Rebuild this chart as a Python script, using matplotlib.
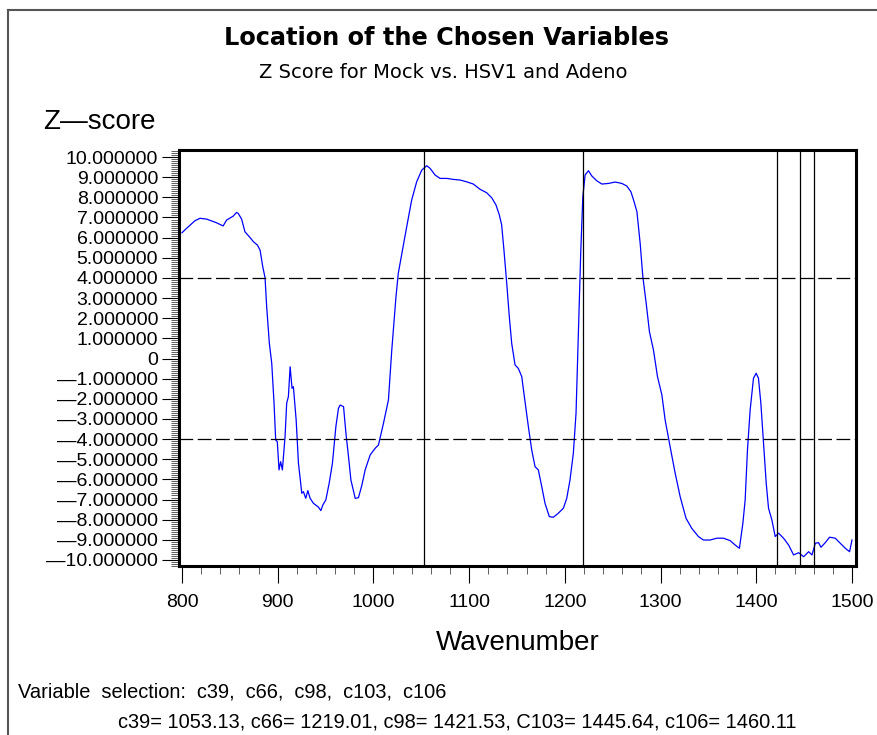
import matplotlib
matplotlib.use('Agg')
import matplotlib.pyplot as plt
from matplotlib.ticker import MultipleLocator, FixedLocator
from matplotlib.lines import Line2D

# Z-score curve
wavenumber = [800, 803, 813.6, 818.8, 825.7, 836, 843, 846.6, 853.6, 857, 858.8, 862.3,
              865.8, 871, 874.6, 878.8, 881.6, 884.4, 886.8, 888.5, 891.3, 893.8, 896.2,
              897.9, 899.6, 901.4, 903.1, 904.9, 907.7, 909.4, 911.2, 913, 915, 916.4,
              919.3, 921.7, 925.2, 926.9, 929.3, 931.5, 933.9, 937.4, 942.6, 945.1, 947.2,
              950.3, 953.8, 957.2, 960.8, 963.5, 965.3, 968.8, 971.3, 974, 976.5, 981,
              984.4, 988, 991.4, 996.6, 1001.8, 1005.3, 1010.5, 1015.7, 1019.2, 1023.6,
              1026, 1031.3, 1034.8, 1040, 1045.2, 1050.5, 1055.7, 1059.2, 1064.4, 1069.6,
              1076.6, 1083.5, 1090.5, 1097.5, 1104.4, 1111.4, 1118.3, 1123.6, 1128.1,
              1131.6, 1134, 1136.4, 1139.3, 1142, 1144.5, 1148, 1151.4, 1155, 1157.7,
              1161.9, 1165.4, 1168.9, 1172.3, 1175.9, 1179.3, 1183.8, 1188, 1193.2, 1198.5,
              1202, 1205.4, 1208.9, 1211.7, 1214.1, 1216.7, 1218.8, 1221.2, 1224.7, 1228.2,
              1233.4, 1238.7, 1245.6, 1252.6, 1259.6, 1264.8, 1269, 1271.8, 1275.3, 1278.7,
              1281.5, 1285, 1288.4, 1292.6, 1296.8, 1301.4, 1304.8, 1310, 1315.3, 1320.5,
              1326.6, 1332.6, 1339.6, 1344.8, 1351.8, 1358.8, 1365.7, 1372.7, 1378, 1382.4,
              1386, 1388.4, 1390.8, 1393.6, 1397.1, 1399.9, 1402.3, 1404.8, 1407.6, 1410.4,
              1412.8, 1416.3, 1419.8, 1423.3, 1428.5, 1433.8, 1439, 1444.3, 1449.5, 1454.7,
              1458.2, 1461.7, 1465.1, 1467.6, 1472.1, 1476.6, 1482.5, 1487.8, 1493, 1497.5,
              1500]
zscore = [6.24, 6.38, 6.84, 6.96, 6.92, 6.74, 6.58, 6.87, 7.07, 7.25, 7.2, 6.92,
          6.29, 6.01, 5.80, 5.63, 5.38, 4.56, 4.01, 2.57, 0.75, -0.24, -2.22,
          -4.04, -4.13, -5.53, -5.12, -5.53, -3.88, -2.22, -1.89, -0.41, -1.48, -1.40,
          -3.05, -5.20, -6.69, -6.61, -6.94, -6.56, -6.94, -7.19, -7.38, -7.55, -7.27,
          -7.02, -6.19, -5.20, -3.38, -2.47, -2.31, -2.39, -3.71, -4.87, -6.03, -6.94,
          -6.91, -6.28, -5.53, -4.79, -4.46, -4.29, -3.22, -2.06, 0.42, 3.07,
          4.23, 5.63, 6.54, 7.87, 8.77, 9.35, 9.57, 9.44, 9.11, 8.94,
          8.94, 8.89, 8.86, 8.77, 8.66, 8.40, 8.23, 7.98, 7.62,
          7.12, 6.63, 5.38, 3.73, 2.07, 0.75, -0.32, -0.49, -0.90, -1.89,
          -3.38, -4.54, -5.37, -5.53, -6.36, -7.19, -7.85, -7.88, -7.68, -7.43,
          -6.94, -6.03, -4.70, -2.72, 1.25, 5.38, 8.03, 9.11, 9.32, 9.06,
          8.82, 8.66, 8.69, 8.76, 8.69, 8.56, 8.28, 7.87, 7.29, 5.72,
          4.06, 2.74, 1.33, 0.42, -0.90, -1.81, -3.05, -4.38, -5.70, -6.86,
          -7.93, -8.43, -8.84, -9.01, -9.01, -8.92, -8.92, -9.04, -9.26, -9.42,
          -8.18, -7.02, -4.54, -2.56, -0.98, -0.73, -0.98, -2.22, -4.21, -6.19,
          -7.43, -8.01, -8.84, -8.67, -8.92, -9.26, -9.75, -9.64, -9.84, -9.59,
          -9.75, -9.17, -9.14, -9.37, -9.14, -8.87, -8.92, -9.17, -9.42, -9.59,
          -9.01]

chosen = [1053.13, 1219.01, 1421.53, 1445.64, 1460.11]
cutoffs = [4, -4]
yticks = list(range(-10, 11))


def ylab(v):
    if v == 0:
        return '0'
    if v < 0:
        return '\u2014%.6f' % abs(v)
    return '%.6f' % v


plt.rcParams['font.family'] = ['Liberation Sans', 'DejaVu Sans']

W, H = 878, 735
fig = plt.figure(figsize=(W / 100, H / 100), dpi=100)
ax = fig.add_axes([179 / W, 1 - 566 / H, 677 / W, 416 / H])

ax.plot(wavenumber, zscore, color='#0000ff', lw=0.9)
for c in chosen:
    ax.axvline(c, color='black', lw=0.9)
for c in cutoffs:
    ax.axhline(c, color='black', lw=0.9, dashes=(11, 3.6))

ax.set_xlim(796.9, 1504.2)
ax.set_ylim(-10.30, 10.35)

ax.xaxis.set_major_locator(MultipleLocator(100))
ax.xaxis.set_minor_locator(MultipleLocator(20))
ax.yaxis.set_major_locator(FixedLocator(yticks))
ax.yaxis.set_minor_locator(MultipleLocator(0.1))
ax.set_yticklabels([ylab(v) for v in yticks])
ax.tick_params(axis='both', which='major', direction='out', length=12, width=0.8,
               labelsize=14, pad=3)
ax.tick_params(axis='both', which='minor', direction='out', length=6, width=0.6,
               color='#444444')
ax.tick_params(axis='x', which='major', pad=8)

for s in ax.spines.values():
    s.set_linewidth(2.2)

ax.set_xlabel('Wavenumber', fontsize=20, labelpad=14)

fig.text(447 / W, 1 - 38 / H, 'Location of the Chosen Variables', fontsize=17.3,
         fontweight='bold', family='DejaVu Sans', ha='center', va='center')
fig.text(443 / W, 1 - 73 / H, 'Z Score for Mock vs. HSV1 and Adeno', fontsize=14,
         family='DejaVu Sans', ha='center', va='center')
fig.text(43 / W, 1 - 122 / H, 'Z\u2014score', fontsize=20, ha='left', va='center')
fig.text(18 / W, 1 - 692 / H, 'Variable  selection:  c39,  c66,  c98,  c103,  c106',
         fontsize=14.4, ha='left', va='center')
fig.text(118 / W, 1 - 722 / H,
         'c39= 1053.13, c66= 1219.01, c98= 1421.53, C103= 1445.64, c106= 1460.11',
         fontsize=14.4, ha='left', va='center')

# outer border (top and left only)
fig.add_artist(Line2D([8 / W, 8 / W], [0, 1 - 10 / H], transform=fig.transFigure,
                      color='#555555', lw=1.5))
fig.add_artist(Line2D([8 / W, 1], [1 - 10 / H, 1 - 10 / H], transform=fig.transFigure,
                      color='#555555', lw=1.5))

fig.savefig('out.png', dpi=100)
